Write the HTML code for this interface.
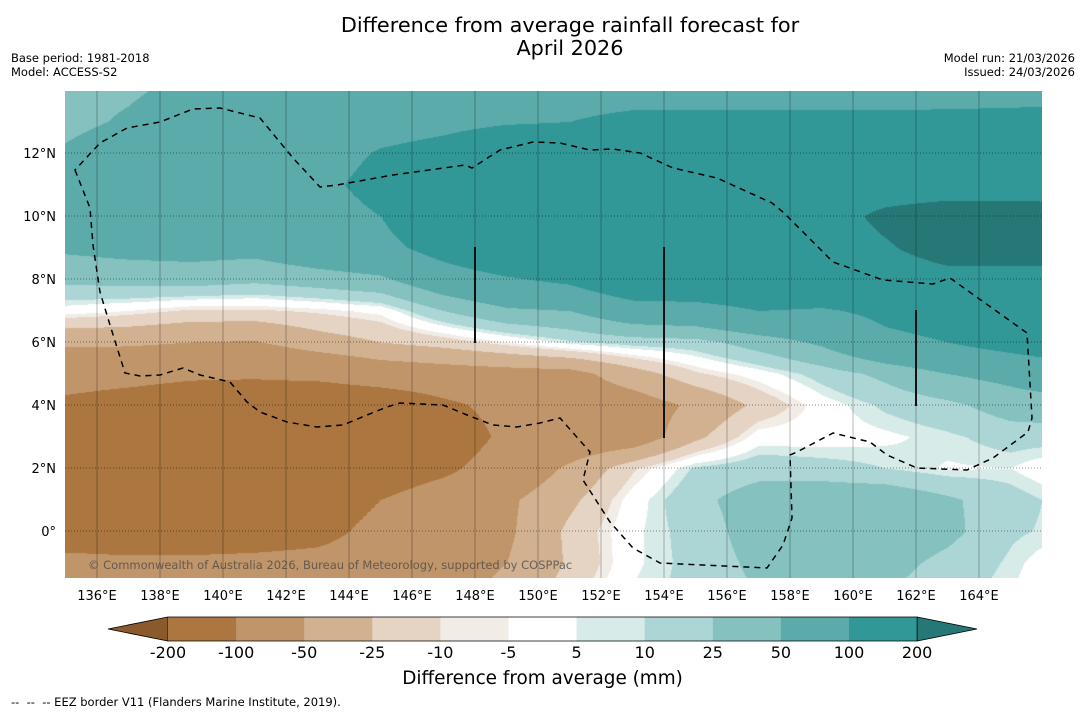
<!DOCTYPE html>
<html><head><meta charset="utf-8"><style>
body{margin:0;background:#fff;width:1085px;height:713px;overflow:hidden;font-family:"DejaVu Sans","Liberation Sans",sans-serif;}
#wrap{position:relative;width:1085px;height:713px;}
.t{position:absolute;white-space:nowrap;color:#000;}
canvas{position:absolute;left:65px;top:91px;}
svg{position:absolute;left:0;top:0;font-family:"DejaVu Sans","Liberation Sans",sans-serif;}
</style></head><body>
<div id="wrap">
<div class="t" style="left:0;width:1140px;text-align:center;top:14px;font-size:20.8px;line-height:23px;">Difference from average rainfall forecast for<br>April 2026</div>
<div class="t" style="left:11px;top:51px;font-size:11.5px;line-height:14px;">Base period: 1981-2018<br>Model: ACCESS-S2</div>
<div class="t" style="right:10px;top:51px;font-size:11.5px;line-height:14px;text-align:right;">Model run: 21/03/2026<br>Issued: 24/03/2026</div>
<canvas id="map" width="977" height="487"></canvas>
<svg id="ov" width="1085" height="713"></svg>
<div class="t" style="left:88px;top:558px;font-size:11.5px;color:rgba(70,70,70,0.75);">© Commonwealth of Australia 2026, Bureau of Meteorology, supported by COSPPac</div>
<div class="t" style="left:0;width:1085px;text-align:center;top:668px;font-size:18.4px;">Difference from average (mm)</div>
<div class="t" style="left:11px;top:695px;font-size:11.5px;">-- &nbsp;-- &nbsp;-- EEZ border V11 (Flanders Marine Institute, 2019).</div>
</div>
<script>
const lons=[135,137,139,141,143,145,147,149,151,153,155,157,159,161,163,165,167];
const lats=[14,13,12,11,10,9,8,7,6,5,4,3,2,1,0,-1,-2];
const row14=[37,45,60,75,75,75,75,75,75,75,75,75,75,75,78,82,85];
const row13=[40,55,75,75,75,75,85,95,100,115,115,115,115,115,115,115,115];
const row12=[55,75,75,75,75,105,120,150,150,150,150,150,150,150,150,150,150];
const row11=[75,75,75,75,85,120,150,150,150,150,150,150,150,150,150,150,150];
const row10=[75,75,75,75,75,100,150,150,150,150,150,150,160,220,250,250,240];
const row9=[55,60,62,60,75,85,120,150,150,150,150,150,150,190,240,240,235];
const row8=[30,33,35,30,37,45,75,95,110,150,150,150,150,150,170,170,170];
const row7=[0,-5,-12,-12,-8,-2,25,45,50,75,80,100,95,110,120,130,140];
const row6=[-45,-45,-50,-52,-35,-25,-17,-5,8,15,18,35,55,90,100,120,140];
const row5=[-80,-85,-92,-92,-85,-70,-65,-62,-60,-35,-12,0,15,30,50,60,75];
const row4=[-110,-120,-130,-140,-150,-140,-110,-85,-70,-65,-45,-20,0,12,20,35,40];
const row3=[-150,-150,-150,-150,-150,-150,-130,-90,-75,-70,-30,0,0,3,8,15,15];
const row2=[-150,-150,-150,-150,-145,-130,-110,-75,-45,-12,12,18,15,10,4,5,-6];
const row1=[-150,-150,-150,-150,-130,-100,-75,-55,-30,0,20,35,40,40,28,15,5];
const row0=[-120,-125,-130,-125,-115,-85,-70,-55,-20,3,15,35,42,40,30,12,6];
const rowM1=[-90,-92,-90,-88,-85,-78,-65,-50,-22,3,14,30,38,32,20,8,-6];
const rowM2=[-80,-82,-80,-78,-75,-68,-58,-42,-15,6,14,25,30,25,15,5,-8];
const grid=[row14,row13,row12,row11,row10,row9,row8,row7,row6,row5,row4,row3,row2,row1,row0,rowM1,rowM2];
const levels=[-200,-100,-50,-25,-10,-5,5,10,25,50,100,200];
const levelLabels=["-200","-100","-50","-25","-10","-5","5","10","25","50","100","200"];
const bandColors=["#8a5a2c","#ab763f","#c0956a","#d2b191","#e5d3c3","#f2ece7","#ffffff","#d7ebe9","#acd6d5","#84c1bf","#5aabaa","#329897","#267877"];
const lonTicks=[136,138,140,142,144,146,148,150,152,154,156,158,160,162,164];
const latTicks=[12,10,8,6,4,2,0];

const X0=65.5, Y0=531, PX=31.5;
function xOf(lon){return X0+(lon-135)*PX;}
function yOf(lat){return Y0-lat*PX;}
function hexToRgb(h){return [parseInt(h.slice(1,3),16),parseInt(h.slice(3,5),16),parseInt(h.slice(5,7),16)];}
const rgb=bandColors.map(hexToRgb);
function bandOf(v){let i=0;while(i<levels.length&&v>=levels[i])i++;return i;}
function sample(lon,lat){
  let fi=(lon-lons[0])/(lons[1]-lons[0]);
  let fj=(lats[0]-lat)/(lats[0]-lats[1]);
  fi=Math.max(0,Math.min(lons.length-1.0001,fi));
  fj=Math.max(0,Math.min(lats.length-1.0001,fj));
  const i=Math.floor(fi),j=Math.floor(fj),a=fi-i,b=fj-j;
  const v00=grid[j][i],v10=grid[j][i+1],v01=grid[j+1][i],v11=grid[j+1][i+1];
  return v00*(1-a)*(1-b)+v10*a*(1-b)+v01*(1-a)*b+v11*a*b;
}
const cv=document.getElementById('map');const ctx=cv.getContext('2d');
const img=ctx.createImageData(cv.width,cv.height);
for(let py=0;py<cv.height;py++){
  const lat=(Y0-(py+91))/PX;
  for(let px=0;px<cv.width;px++){
    const lon=135+((px+65)-X0)/PX;
    const c=rgb[bandOf(sample(lon,lat))];
    const k=(py*cv.width+px)*4;
    img.data[k]=c[0];img.data[k+1]=c[1];img.data[k+2]=c[2];img.data[k+3]=255;
  }
}
ctx.putImageData(img,0,0);

const NS='http://www.w3.org/2000/svg';
const ov=document.getElementById('ov');
function mk(tag,attrs,parent){const e=document.createElementNS(NS,tag);for(const k in attrs)e.setAttribute(k,attrs[k]);(parent||ov).appendChild(e);return e;}
lonTicks.forEach(l=>{
  const ln=mk('line',{x1:xOf(l),x2:xOf(l),y1:91,y2:578,stroke:'rgba(0,0,0,0.28)','stroke-width':1});
  
  
  const t=mk('text',{x:xOf(l),y:600,'text-anchor':'middle','font-size':13,fill:'#000'});
  t.textContent=l+'°E';
  
  
});
latTicks.forEach(l=>{
  const ln=mk('line',{x1:65,x2:1042,y1:yOf(l),y2:yOf(l),stroke:'rgba(0,0,0,0.45)','stroke-width':1,'stroke-dasharray':'1,2'});
  
  
  const t=mk('text',{x:56,y:yOf(l)+5,'text-anchor':'end','font-size':13,fill:'#000'});
  t.textContent=l===0?'0°':l+'°N';
  
  
});
const eez=mk('path',{d:'M75,170 L90,208 L93,245 L100,292 L110,325 L125,373 L140,376 L160,375 L183,368 L200,375 L230,382 L247,402 L260,412 L287,422 L317,427 L343,425 L367,415 L387,407 L400,403 L443,405 L467,415 L493,425 L517,427 L540,423 L560,418 L590,452 L583,480 L610,522 L633,548 L660,563 L767,568 L783,545 L792,518 L790,455 L797,452 L833,433 L870,442 L887,455 L917,468 L967,470 L993,458 L1028,432 L1032,418 L1027,333 L950,278 L933,284 L883,280 L833,262 L783,212 L772,203 L717,178 L673,168 L640,153 L613,149 L590,150 L560,143 L533,142 L500,150 L472,168 L465,165 L393,175 L337,185 L320,187 L293,158 L260,118 L220,108 L193,109 L160,122 L127,128 L100,143 Z',fill:'none',stroke:'#000','stroke-width':1.5,'stroke-dasharray':'6,5'});


[[475,247,343],[664,247,438],[916,310,406]].forEach(s=>{
  const l=mk('line',{x1:s[0],x2:s[0],y1:s[1],y2:s[2],stroke:'#111','stroke-width':2});
  
  
});
const cbX0=168,cbW=68.1,cbY=617,cbH=24;
function cbX(i){return cbX0+i*cbW;}
const lowTri=mk('polygon',{points:`${cbX(0)},${cbY} ${cbX(0)},${cbY+cbH} 108,${cbY+cbH/2}`,fill:bandColors[0],stroke:'#000','stroke-width':0.8});


for(let i=0;i<levels.length-1;i++){
  const r=mk('rect',{x:cbX(i),y:cbY,width:cbW+0.5,height:cbH,fill:bandColors[i+1]});
  
  
}
const n=levels.length-1;
const hiTri=mk('polygon',{points:`${cbX(n)},${cbY} ${cbX(n)},${cbY+cbH} 977,${cbY+cbH/2}`,fill:bandColors[bandColors.length-1],stroke:'#000','stroke-width':0.8});


const outline=mk('path',{d:`M${cbX(0)},${cbY} L${cbX(n)},${cbY} M${cbX(0)},${cbY+cbH} L${cbX(n)},${cbY+cbH}`,stroke:'#000','stroke-width':0.8,fill:'none'});


levels.forEach((lv,i)=>{
  const t=mk('text',{x:cbX(i),y:658,'text-anchor':'middle','font-size':16,fill:'#000'});
  t.textContent=levelLabels[i];
  
  
});
</script>
</body></html>
